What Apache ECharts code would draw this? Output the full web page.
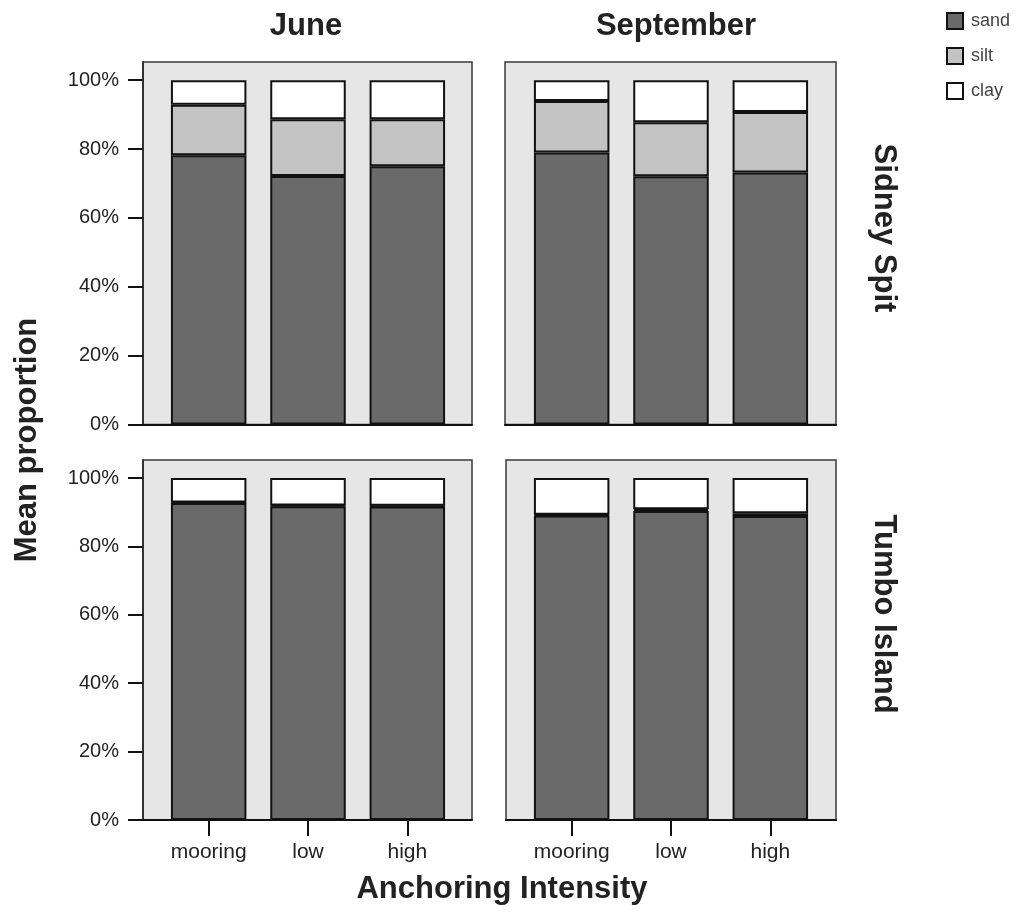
<!DOCTYPE html>
<html>
<head>
<meta charset="utf-8">
<script src="https://cdn.jsdelivr.net/npm/echarts@6/dist/echarts.min.js"></script>
<style>
html,body{margin:0;padding:0;background:#fff;}
#chart{width:1031px;height:915px;}
</style>
</head>
<body>
<div id="chart"></div>
<script>
// ---- data ----
const categories = ['mooring', 'low', 'high'];
const months = ['June', 'September'];
const sites = ['Sidney Spit', 'Tumbo Island'];
const components = ['sand', 'silt', 'clay'];
const yTicks = [0, 20, 40, 60, 80, 100];

// Sidney Spit
const sidneyJuneSand = [78.2, 72.2, 75.0];
const sidneyJuneSilt = [14.7, 16.5, 13.7];
const sidneyJuneClay = [7.1, 11.3, 11.3];
const sidneySeptSand = [79.0, 72.1, 73.2];
const sidneySeptSilt = [15.0, 15.7, 17.6];
const sidneySeptClay = [6.0, 12.2, 9.2];
// Tumbo Island
const tumboJuneSand = [92.7, 91.8, 91.7];
const tumboJuneSilt = [0.2, 0.2, 0.2];
const tumboJuneClay = [7.1, 8.0, 8.1];
const tumboSeptSand = [89.1, 90.4, 88.9];
const tumboSeptSilt = [0.2, 0.5, 0.8];
const tumboSeptClay = [10.7, 9.1, 10.3];

const panelData = [
  [sidneyJuneSand, sidneyJuneSilt, sidneyJuneClay],
  [sidneySeptSand, sidneySeptSilt, sidneySeptClay],
  [tumboJuneSand, tumboJuneSilt, tumboJuneClay],
  [tumboSeptSand, tumboSeptSilt, tumboSeptClay]
];

// ---- style / layout ----
const FONT = "'Liberation Sans', Arial, sans-serif";
const colors = {sand: '#6a6a6a', silt: '#c3c3c3', clay: '#ffffff'};
const YMAX = 105.3;
const panels = [
  {bg: {left: 143, top: 62, width: 329, height: 362.5}, data: {left: 159, width: 298}, col: 0, row: 0},
  {bg: {left: 505, top: 62, width: 331, height: 362.5}, data: {left: 522, width: 298}, col: 1, row: 0},
  {bg: {left: 143, top: 460, width: 329, height: 360}, data: {left: 159, width: 298}, col: 0, row: 1},
  {bg: {left: 506, top: 460, width: 330, height: 360}, data: {left: 522, width: 298}, col: 1, row: 1}
];

const grid = [], xAxis = [], yAxis = [], series = [];
panels.forEach((p, i) => {
  // background panel grid
  grid.push({left: p.bg.left, top: p.bg.top, width: p.bg.width, height: p.bg.height,
    show: true, backgroundColor: '#e6e6e6', borderColor: '#3a3a3a', borderWidth: 1.5});
  const bgIdx = grid.length - 1;
  xAxis.push({gridIndex: bgIdx, type: 'value', min: 0, max: 1,
    axisLine: {show: true, onZero: false, lineStyle: {color: '#111', width: 2}},
    axisTick: {show: false}, axisLabel: {show: false}, splitLine: {show: false}});
  const leftCol = p.col === 0;
  yAxis.push({gridIndex: bgIdx, type: 'value', min: 0, max: YMAX,
    axisLine: {show: leftCol, lineStyle: {color: '#222', width: 1.5}},
    axisTick: {show: leftCol, length: 15, customValues: yTicks, lineStyle: {color: '#111', width: 2}},
    axisLabel: {show: leftCol, customValues: yTicks, formatter: v => v + '%', margin: 24,
      fontFamily: FONT, fontSize: 20, color: '#222'},
    splitLine: {show: false}});
  // data grid
  grid.push({left: p.data.left, top: p.bg.top, width: p.data.width, height: p.bg.height});
  const dIdx = grid.length - 1;
  const bottomRow = p.row === 1;
  xAxis.push({gridIndex: dIdx, type: 'category', data: categories,
    axisLine: {show: false},
    axisTick: {show: bottomRow, alignWithLabel: true, length: 16, lineStyle: {color: '#111', width: 2}},
    axisLabel: {show: bottomRow, margin: 22, fontFamily: FONT, fontSize: 21, color: '#222'}});
  yAxis.push({gridIndex: dIdx, type: 'value', min: 0, max: YMAX, show: false});
  components.forEach((c, k) => {
    series.push({name: c, type: 'bar', stack: 'p' + i, xAxisIndex: dIdx, yAxisIndex: dIdx,
      barWidth: '76%', data: panelData[i][k],
      itemStyle: {color: colors[c], borderColor: '#111', borderWidth: 2},
      emphasis: {disabled: true}});
  });
});

const titleStyle = {fontFamily: FONT, fontWeight: 'bold', fontSize: 31, fill: '#222'};
const option = {
  animation: false,
  backgroundColor: '#ffffff',
  legend: {
    data: components, orient: 'vertical', left: 941, top: 7,
    itemWidth: 16, itemHeight: 16, itemGap: 17, icon: 'rect',
    textStyle: {fontFamily: FONT, fontSize: 18, color: '#444', padding: [0, 0, 0, 3]}
  },
  grid, xAxis, yAxis, series,
  graphic: [
    {type: 'text', x: 306, y: 26, style: Object.assign({text: months[0], align: 'center', verticalAlign: 'middle'}, titleStyle)},
    {type: 'text', x: 676, y: 26, style: Object.assign({text: months[1], align: 'center', verticalAlign: 'middle'}, titleStyle)},
    {type: 'text', x: 884, y: 228, rotation: -Math.PI / 2, style: Object.assign({text: sites[0], align: 'center', verticalAlign: 'middle'}, titleStyle)},
    {type: 'text', x: 884, y: 614, rotation: -Math.PI / 2, style: Object.assign({text: sites[1], align: 'center', verticalAlign: 'middle'}, titleStyle)},
    {type: 'text', x: 27, y: 440, rotation: Math.PI / 2, style: Object.assign({text: 'Mean proportion', align: 'center', verticalAlign: 'middle'}, titleStyle)},
    {type: 'text', x: 502, y: 889, style: Object.assign({text: 'Anchoring Intensity', align: 'center', verticalAlign: 'middle'}, titleStyle)}
  ]
};
const chart = echarts.init(document.getElementById('chart'), null, {renderer: 'canvas'});
chart.setOption(option);
</script>
</body>
</html>
